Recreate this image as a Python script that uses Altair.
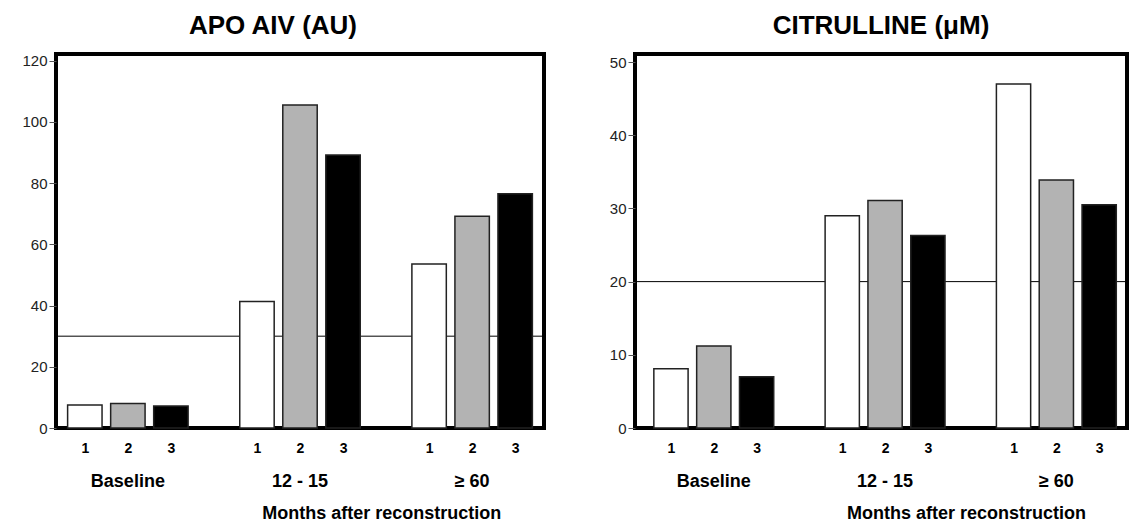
import altair as alt
import pandas as pd

# ---- data ----
groups = ["Baseline", "12 - 15", "≥ 60"]
series = ["1", "2", "3"]
apo_values = [7.5, 8.0, 7.2, 41.3, 105.5, 89.2, 53.6, 69.2, 76.5]
cit_values = [8.1, 11.2, 7.0, 29.0, 31.1, 26.3, 47.0, 33.9, 30.5]
fills = ["#ffffff", "#b3b3b3", "#000000"]
apo_ref = [30]
cit_ref = [20]
apo_ticks = [0, 20, 40, 60, 80, 100, 120]
cit_ticks = [0, 10, 20, 30, 40, 50]
x_title = "Months after reconstruction"

FONT = "Liberation Sans"
PLOT_H = 374


def bars_df(values):
    rows = []
    for gi, g in enumerate(groups):
        for si, s in enumerate(series):
            pos = gi * 4 + si + 1
            rows.append(dict(group=g, series=s, pos=pos, lo=pos - 0.4,
                             hi=pos + 0.4, value=values[gi * 3 + si]))
    return pd.DataFrame(rows)


def panel(title, values, ref, ticks, ymax, xdom, width, extent, title_dx):
    df = bars_df(values)
    xscale = alt.Scale(domain=xdom, nice=False, zero=False)
    yscale = alt.Scale(domain=[0, ymax], nice=False, zero=True)
    xaxis = alt.Axis(values=[1, 2, 3, 5, 6, 7, 9, 10, 11],
                     labelExpr="'' + (((datum.value - 1) % 4) + 1)",
                     ticks=False, tickSize=0, domain=False, grid=False,
                     title=None, labelFontWeight="bold", labelFontSize=14,
                     labelPadding=13, labelColor="black", labelFlush=False,
                     labelFont=FONT)
    yaxis = alt.Axis(values=ticks, domain=False, grid=False, title=None,
                     labelFontSize=15, labelColor="#222", tickColor="#555",
                     tickSize=7, labelPadding=2, minExtent=extent,
                     maxExtent=extent, labelFont=FONT)

    rule = alt.Chart(pd.DataFrame({"ref": ref})).mark_rule(
        color="black", strokeWidth=1
    ).encode(y=alt.Y("ref:Q", scale=yscale, axis=yaxis))

    bars = alt.Chart(df).mark_bar(stroke="#222", strokeWidth=1.5).encode(
        x=alt.X("lo:Q", scale=xscale, axis=xaxis),
        x2="hi:Q",
        y=alt.Y("value:Q", scale=yscale, axis=yaxis),
        y2=alt.datum(0),
        fill=alt.Fill("series:N", scale=alt.Scale(domain=series, range=fills),
                      legend=None),
    )

    gdf = pd.DataFrame({"group": groups,
                        "center": [gi * 4 + 2 for gi in range(len(groups))]})
    glabels = alt.Chart(gdf).mark_text(
        font=FONT, fontSize=18, fontWeight="bold", baseline="alphabetic",
        align="center", color="black"
    ).encode(x=alt.X("center:Q", scale=xscale, axis=xaxis),
             y=alt.value(PLOT_H + 59), text="group:N")

    tdf = pd.DataFrame({"t": [x_title], "xc": [7.9]})
    tlabel = alt.Chart(tdf).mark_text(
        font=FONT, fontSize=18, fontWeight="bold", baseline="alphabetic",
        align="center", color="black"
    ).encode(x=alt.X("xc:Q", scale=xscale, axis=xaxis),
             y=alt.value(PLOT_H + 91), text="t:N")

    return alt.layer(rule, bars, glabels, tlabel).properties(
        width=width, height=PLOT_H,
        title=alt.TitleParams(title, font=FONT, fontSize=26, fontWeight="bold",
                              offset=-6, baseline="alphabetic", anchor="middle",
                              dx=title_dx, color="black"),
    )


left = panel("APO AIV (AU)", apo_values, apo_ref, apo_ticks, 122.2,
             [0.33, 11.67], 488, 46, -27)
right = panel("CITRULLINE (\u03bcM)", cit_values, cit_ref, cit_ticks, 51.1,
              [0.16, 11.65], 492, 30, 0)

chart = alt.hconcat(left, right, spacing=56).properties(
    padding={"left": 0, "top": 2, "right": 0, "bottom": 0},
    background="white",
).configure(
    font=FONT
).configure_view(
    stroke="black", strokeWidth=4, fill="white"
)

chart.save("out.html", embed_options={"renderer": "svg", "actions": False})
